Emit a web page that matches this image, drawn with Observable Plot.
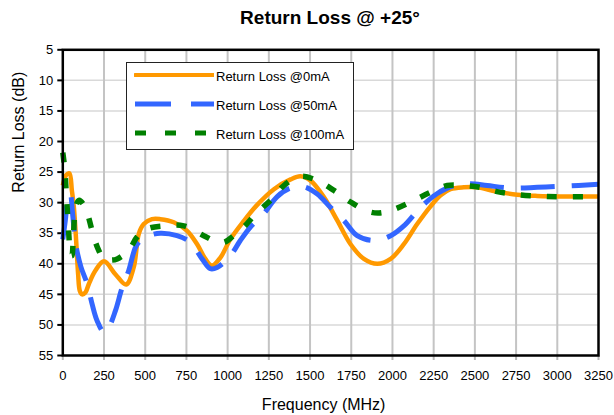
<!DOCTYPE html>
<html>
<head>
<meta charset="utf-8">
<script src="https://cdn.jsdelivr.net/npm/d3@7"></script>
<script src="https://cdn.jsdelivr.net/npm/@observablehq/plot@0.6"></script>
<style>
  body { margin: 0; background: white; font-family: "Liberation Sans", Arial, sans-serif; }
  #wrap { position: relative; width: 614px; height: 415px; background: white; overflow: hidden; }
  #title { height: 36px; line-height: 36px; font-size: 19px; font-weight: bold; text-align: center; padding-left: 46px; box-sizing: border-box; width: 614px; color: #000; }
  #legend { position: absolute; left: 126px; top: 62px; width: 228px; height: 88px; border: 1.3px solid #222; background: white; box-sizing: border-box; }
  .item { position: absolute; left: 0; height: 20px; width: 226px; }
  .item svg { position: absolute; left: 7px; top: 0; }
  .item span { position: absolute; left: 89px; top: 2px; font-size: 13px; line-height: 20px; color: #000; white-space: nowrap; }
</style>
</head>
<body>
<div id="wrap">
  <div id="title">Return Loss @ +25°</div>
  <div id="chart"></div>
  <div id="legend"></div>
</div>
<script>
// ---- data ----
const xTicks = [0, 250, 500, 750, 1000, 1250, 1500, 1750, 2000, 2250, 2500, 2750, 3000, 3250];
const yTicks = [5, 10, 15, 20, 25, 30, 35, 40, 45, 50, 55];
const seriesNames = ["Return Loss @0mA", "Return Loss @50mA", "Return Loss @100mA"];

const freq0mA = [0, 20, 40, 55, 67, 81, 93, 103, 117, 137, 158, 198, 250, 319, 384, 430, 461, 491, 541, 592, 673, 754, 815, 865, 905, 956, 1016, 1098, 1178, 1281, 1382, 1442, 1503, 1584, 1665, 1746, 1827, 1908, 1989, 2069, 2150, 2231, 2292, 2352, 2433, 2514, 2635, 2757, 2878, 3040, 3250];
const rl0mA = [27.2, 25.5, 25.2, 28, 30.7, 36.2, 41.7, 44.4, 45, 44.7, 43.3, 41.1, 39.6, 41.7, 43.4, 40.6, 35.1, 33.5, 32.7, 32.7, 33.2, 34.6, 36.8, 39.2, 40.3, 39, 36, 33, 30.4, 27.8, 26.2, 25.7, 26.4, 29.1, 32.9, 36.8, 39.2, 40, 39.2, 36.8, 33.5, 30.6, 28.8, 27.8, 27.5, 27.5, 28.2, 28.7, 28.9, 29, 29];

const freq50mA = [0, 15, 30, 45, 60, 80, 110, 148, 178, 208, 250, 279, 319, 360, 400, 441, 471, 521, 592, 693, 774, 845, 895, 936, 1016, 1077, 1138, 1219, 1301, 1382, 1463, 1544, 1625, 1705, 1786, 1887, 1989, 2069, 2170, 2272, 2373, 2474, 2575, 2716, 2878, 3040, 3250];
const rl50mA = [36, 33, 29.5, 28.5, 32, 37, 40.5, 43.3, 46.6, 49.3, 51.2, 50.4, 47.7, 43.9, 41.1, 37.3, 36.2, 35.4, 35, 35.4, 36.5, 39.2, 40.8, 40.6, 38.7, 36.2, 34, 31.8, 29, 27.6, 27.4, 28.6, 30.8, 32.9, 35.4, 36.2, 35.4, 33.8, 30.8, 28.5, 27.2, 26.9, 27.2, 27.6, 27.5, 27.3, 27];

const freq100mA = [0, 12, 20, 27, 36, 45, 55, 65, 80, 100, 125, 150, 175, 210, 250, 290, 330, 400, 451, 511, 612, 734, 855, 915, 976, 1036, 1098, 1168, 1269, 1341, 1443, 1544, 1645, 1746, 1847, 1918, 1999, 2110, 2231, 2332, 2433, 2534, 2635, 2757, 2939, 3250];
const rl100mA = [21.8, 24.5, 28, 31, 35, 38, 38.7, 35, 30.5, 29.6, 30.3, 31.8, 34.3, 37.3, 39.2, 39.4, 39.2, 37.8, 35.6, 34.3, 33.8, 33.8, 35.4, 36.2, 36.5, 35.4, 34, 31.9, 29.4, 27.2, 25.7, 26.4, 28, 29.9, 31.4, 31.7, 31.2, 29.9, 28.3, 27.2, 27.2, 27.5, 28.2, 28.7, 29, 29];

const colors = ["#FF9900", "#3366FF", "#008000"];
const widths = [4.5, 5, 5.5];
const dashes = [null, "34,17", "10,16"];

// ---- build tables ----
const toRows = (fs, vs) => fs.map((f, i) => ({f, db: vs[i]}));
const rows = [toRows(freq0mA, rl0mA), toRows(freq50mA, rl50mA), toRows(freq100mA, rl100mA)];

const xGrid = xTicks.slice(1, -1);
const yGrid = yTicks.slice(1, -1);

const chart = Plot.plot({
  width: 614,
  height: 379,
  marginTop: 13.3,
  marginLeft: 62.3,
  marginRight: 16,
  marginBottom: 60,
  style: {fontFamily: "Liberation Sans, Arial, sans-serif", fontSize: "13px", background: "white", overflow: "visible", color: "black"},
  x: {domain: [0, 3250]},
  y: {domain: [5, 55], reverse: true},
  marks: [
    Plot.ruleY(yGrid, {stroke: "#d9d9d9", strokeWidth: 1.5}),
    Plot.ruleX(xGrid, {stroke: "#c4c4c4", strokeWidth: 2}),
    Plot.axisX({ticks: xTicks, tickSize: 5, tickPadding: 10, stroke: "#b8b8b8", strokeWidth: 2, fill: "black", fontSize: 13, label: null, tickFormat: d => String(d)}),
    Plot.axisY({ticks: yTicks, tickSize: 5, tickPadding: 4.5, stroke: "black", strokeWidth: 2, fill: "black", fontSize: 13, label: null, tickFormat: d => String(d)}),
    ...rows.map((r, i) => Plot.line(r, {x: "f", y: "db", stroke: colors[i], strokeWidth: widths[i], strokeDasharray: dashes[i], curve: "catmull-rom", strokeLinecap: "butt", strokeLinejoin: "round"})),
    Plot.frame({stroke: "black", strokeWidth: 2.5}),
    Plot.text(["Frequency (MHz)"], {text: d => d, frameAnchor: "bottom", dy: 49, dx: -7, fontSize: 16, lineAnchor: "middle", fill: "black"}),
    Plot.text(["Return Loss (dB)"], {text: d => d, frameAnchor: "left", dx: -44, dy: -10, rotate: -90, fontSize: 16, lineAnchor: "middle", fill: "black"})
  ]
});
document.getElementById("chart").appendChild(chart);

// ---- legend ----
const legend = document.getElementById("legend");
const rowTops = [2, 31, 60];
seriesNames.forEach((name, i) => {
  const item = document.createElement("div");
  item.className = "item";
  item.style.top = rowTops[i] + "px";
  const svg = d3.create("svg").attr("width", 80).attr("height", 20);
  svg.append("line")
    .attr("x1", 1).attr("x2", 80).attr("y1", 10).attr("y2", 10)
    .attr("stroke", colors[i]).attr("stroke-width", i === 0 ? 4 : 5)
    .attr("stroke-dasharray", i === 0 ? null : (i === 1 ? "36,20" : "11,19"))
    .attr("stroke-linecap", i === 0 ? "round" : "butt");
  item.appendChild(svg.node());
  const span = document.createElement("span");
  span.textContent = name;
  item.appendChild(span);
  legend.appendChild(item);
});
</script>
</body>
</html>
